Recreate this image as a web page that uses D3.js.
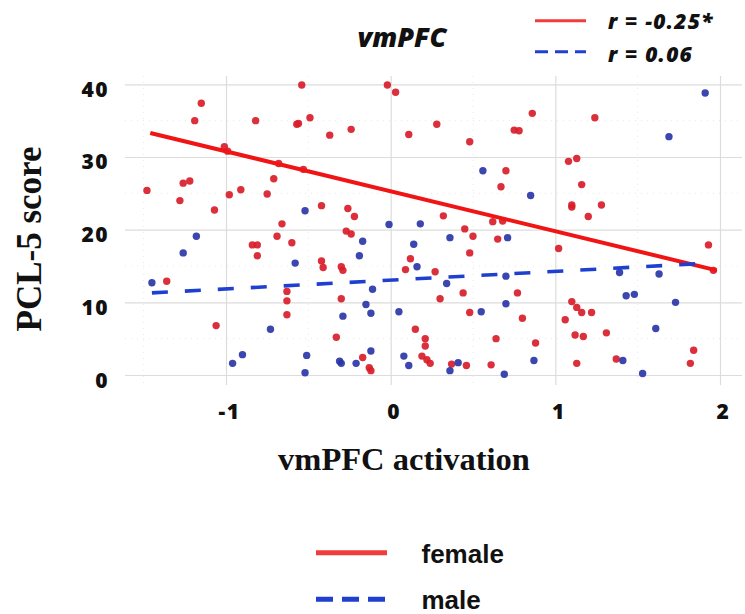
<!DOCTYPE html>
<html><head><meta charset="utf-8">
<script src="https://cdn.jsdelivr.net/npm/d3@7"></script>
<style>body{margin:0;background:#fff} svg{display:block}</style>
</head><body>
<svg id="chart" width="745" height="614"></svg>
<script>
const xTicks = [-1, 0, 1, 2];
const yTicks = [0, 10, 20, 30, 40];
const xMinor = [-1.5, -0.5, 0.5, 1.5];
const yMinor = [5, 15, 25, 35];

const femaleX = [
-0.54,-1.15,-1.19,-0.82,-0.57,-0.56,-0.49,-1.01,-0.99,-0.68,
-0.53,-1.48,-1.26,-1.22,-0.71,-1.28,-0.98,-0.91,-0.75,-1.07,
-0.66,-0.02,0.03,-0.37,-0.24,0.11,0.28,0.48,0.70,0.67,
-0.42,-0.26,-0.22,0.32,0.45,0.62,0.68,0.86,1.24,0.75,
0.78,1.08,1.13,1.16,1.10,1.10,1.28,1.20,-0.84,-0.81,
-0.81,-0.69,-0.60,-1.36,-0.63,-0.63,-0.63,-1.06,-0.27,-0.24,
0.50,0.12,0.09,0.27,0.48,0.65,-0.42,-0.41,-0.30,-0.29,
0.44,0.30,-0.30,0.48,0.15,0.21,0.21,-0.33,0.64,-0.17,
-0.13,-0.12,0.19,0.22,0.24,0.37,0.46,0.61,1.93,1.02,
0.77,1.10,1.13,1.16,1.22,0.80,1.06,1.12,1.17,1.31,
0.88,1.13,1.37,1.84,1.82,1.96];
const femaleY = [
39.9,37.4,35.0,35.0,34.5,34.6,35.4,31.4,30.8,29.1,
28.3,25.4,26.4,26.7,27.0,24.0,24.8,25.5,24.9,22.7,
20.8,39.9,38.9,33.0,33.8,33.1,34.5,32.1,28.1,25.9,
23.3,22.9,21.8,21.9,20.1,21.1,21.2,36.0,35.4,33.7,
33.6,29.4,29.8,26.2,23.1,23.4,23.4,21.8,17.9,17.9,
16.4,19.1,18.2,12.9,11.5,10.2,8.3,6.8,19.8,19.4,
19.1,16.0,14.5,14.2,16.8,18.7,15.7,14.8,14.9,14.4,
11.3,10.5,10.5,8.6,6.3,5.0,4.0,5.2,5.0,2.4,
1.0,0.6,2.6,2.1,1.6,1.5,1.3,1.4,17.9,17.4,
11.3,10.1,9.3,8.6,8.6,7.8,7.6,5.5,5.3,5.8,
4.4,1.6,2.2,3.4,1.6,14.4];

const maleX = [
-0.52,0.56,-0.01,0.18,1.91,1.69,0.85,-1.18,-1.26,-0.58,
-1.45,-0.73,-0.90,-0.96,-0.51,-0.52,-0.17,-0.19,0.36,0.14,
0.16,0.71,-0.11,0.34,0.70,0.70,-0.15,-0.12,-0.29,0.05,
0.55,-0.31,-0.30,-0.21,-0.12,0.08,0.11,0.36,0.41,0.69,
1.39,1.63,1.43,1.48,1.73,1.61,0.87,1.41,1.53];
const maleY = [
22.6,28.1,20.7,20.8,38.8,32.8,24.7,19.1,16.8,15.4,
12.7,6.3,2.8,1.6,2.7,0.3,18.4,16.4,18.9,18.0,
14.9,18.9,11.8,12.6,13.6,9.8,9.7,8.5,8.1,8.7,
8.7,1.9,1.6,1.6,3.3,2.6,1.3,0.6,1.7,0.1,
14.1,13.9,10.9,11.1,10.0,6.4,2.0,2.0,0.2];

const femaleFitX = [-1.46, 1.98];
const femaleFitY = [33.3, 14.4];
const maleFitX = [-1.45, 1.86];
const maleFitY = [11.3, 15.3];

const titleText = "vmPFC";
const xTitle = "vmPFC activation";
const yTitle = "PCL-5 score";
const corrLabels = ["r = -0.25*", "r = 0.06"];
const groupLabels = ["female", "male"];

const svg = d3.select("#chart");
svg.append("rect").attr("width", 745).attr("height", 614).attr("fill", "#fff");

const x = d3.scaleLinear().domain([-1, 2]).range([226, 720]);
const y = d3.scaleLinear().domain([0, 40]).range([375, 84.3]);

const gridTop = 76, gridBottom = 385, gridLeft = 125, gridRight = 742;

// minor grid
const minor = svg.append("g");
minor.selectAll("line.mx").data(xMinor).join("line")
  .attr("x1", d => x(d)).attr("x2", d => x(d))
  .attr("y1", gridTop).attr("y2", gridBottom)
  .attr("stroke", "#e8e8e8").attr("stroke-dasharray", "1,5");
minor.selectAll("line.my").data(yMinor).join("line")
  .attr("y1", d => y(d)).attr("y2", d => y(d))
  .attr("x1", gridLeft).attr("x2", gridRight)
  .attr("stroke", "#e8e8e8").attr("stroke-dasharray", "1,5");

// x axis with gridlines
const xAxis = svg.append("g").attr("transform", `translate(0,${gridBottom})`)
  .call(d3.axisBottom(x).tickValues(xTicks).tickSize(-(gridBottom - gridTop)).tickFormat(d3.format("d")));
xAxis.select(".domain").remove();
xAxis.selectAll(".tick line").attr("stroke", "#dcdcdc").attr("stroke-width", 1.2);
xAxis.selectAll(".tick text")
  .attr("y", 33.5).attr("dy", 0).attr("dx", 3)
  .attr("fill", "#111")
  .style("font-family", "'Open Sans', sans-serif").style("font-weight", "800")
  .style("font-size", "21px").style("letter-spacing", "1.5px")
  .text(d => d < 0 ? "-" + Math.abs(d) : d);

// y axis with gridlines
const yAxis = svg.append("g").attr("transform", `translate(${gridLeft},0)`)
  .call(d3.axisLeft(y).tickValues(yTicks).tickSize(-(gridRight - gridLeft)).tickPadding(16));
yAxis.select(".domain").remove();
yAxis.selectAll(".tick line").attr("stroke", "#dcdcdc").attr("stroke-width", 1.2);
yAxis.selectAll(".tick text")
  .attr("dy", 12)
  .attr("fill", "#111")
  .style("font-family", "'Open Sans', sans-serif").style("font-weight", "800")
  .style("font-size", "21px").style("letter-spacing", "1.5px");

// points
const femalePts = femaleX.map((v, i) => ({x: v, y: femaleY[i]}));
const malePts = maleX.map((v, i) => ({x: v, y: maleY[i]}));
svg.append("g").selectAll("circle").data(femalePts).join("circle")
  .attr("cx", d => x(d.x)).attr("cy", d => y(d.y)).attr("r", 3.7)
  .attr("fill", "#d81e2a").attr("fill-opacity", 0.92);
svg.append("g").selectAll("circle").data(malePts).join("circle")
  .attr("cx", d => x(d.x)).attr("cy", d => y(d.y)).attr("r", 3.7)
  .attr("fill", "#2a36a8").attr("fill-opacity", 0.92);

// fit lines
const line = d3.line().x(d => x(d.x)).y(d => y(d.y));
svg.append("path")
  .datum(femaleFitX.map((v, i) => ({x: v, y: femaleFitY[i]})))
  .attr("d", line).attr("fill", "none").attr("stroke", "#f01414").attr("stroke-width", 4);
svg.append("path")
  .datum(maleFitX.map((v, i) => ({x: v, y: maleFitY[i]})))
  .attr("d", line).attr("fill", "none").attr("stroke", "#1f3fd0").attr("stroke-width", 3.6)
  .attr("stroke-dasharray", "16,17");

// title
svg.append("text").attr("x", 402).attr("y", 46.5).attr("text-anchor", "middle")
  .style("font-family", "'Open Sans', sans-serif").style("font-weight", "800")
  .style("font-style", "italic").style("font-size", "27px").attr("fill", "#111")
  .text(titleText);

// top legend
const topLeg = svg.append("g");
const topRows = [{y: 20.7, base: 28.5, color: "#f23c3c", dash: null}, {y: 51.7, base: 61.5, color: "#2040d4", dash: "13,7"}];
topRows.forEach((r, i) => {
  topLeg.append("line").attr("x1", 535).attr("x2", 586).attr("y1", r.y).attr("y2", r.y)
    .attr("stroke", r.color).attr("stroke-width", 3).attr("stroke-dasharray", r.dash);
  topLeg.append("text").attr("x", 608).attr("y", r.base)
    .style("font-family", "'Open Sans', sans-serif").style("font-weight", "800")
    .style("font-style", "italic").style("font-size", "21px").style("letter-spacing", "1.2px")
    .attr("fill", "#111").text(corrLabels[i]);
});

// axis titles
svg.append("text").attr("x", 404).attr("y", 470).attr("text-anchor", "middle")
  .style("font-family", "'Liberation Serif', 'Times New Roman', serif").style("font-weight", "700")
  .style("font-size", "32.5px").attr("fill", "#111").text(xTitle);
svg.append("text").attr("transform", "translate(41,239) rotate(-90)").attr("text-anchor", "middle")
  .style("font-family", "'Liberation Serif', 'Times New Roman', serif").style("font-weight", "700")
  .style("font-size", "35px").attr("fill", "#111").text(yTitle);

// bottom legend
const botLeg = svg.append("g");
const botRows = [{y: 552.7, base: 562.5, color: "#f03c3c", dash: null}, {y: 599.3, base: 609, color: "#1f3fd0", dash: "17,9"}];
botRows.forEach((r, i) => {
  botLeg.append("line").attr("x1", 316).attr("x2", 387).attr("y1", r.y).attr("y2", r.y)
    .attr("stroke", r.color).attr("stroke-width", 5).attr("stroke-dasharray", r.dash);
  botLeg.append("text").attr("x", 421.5).attr("y", r.base)
    .style("font-family", "'Liberation Sans', Arial, sans-serif").style("font-weight", "700")
    .style("font-size", "26px").attr("fill", "#111").text(groupLabels[i]);
});
</script>
</body></html>
